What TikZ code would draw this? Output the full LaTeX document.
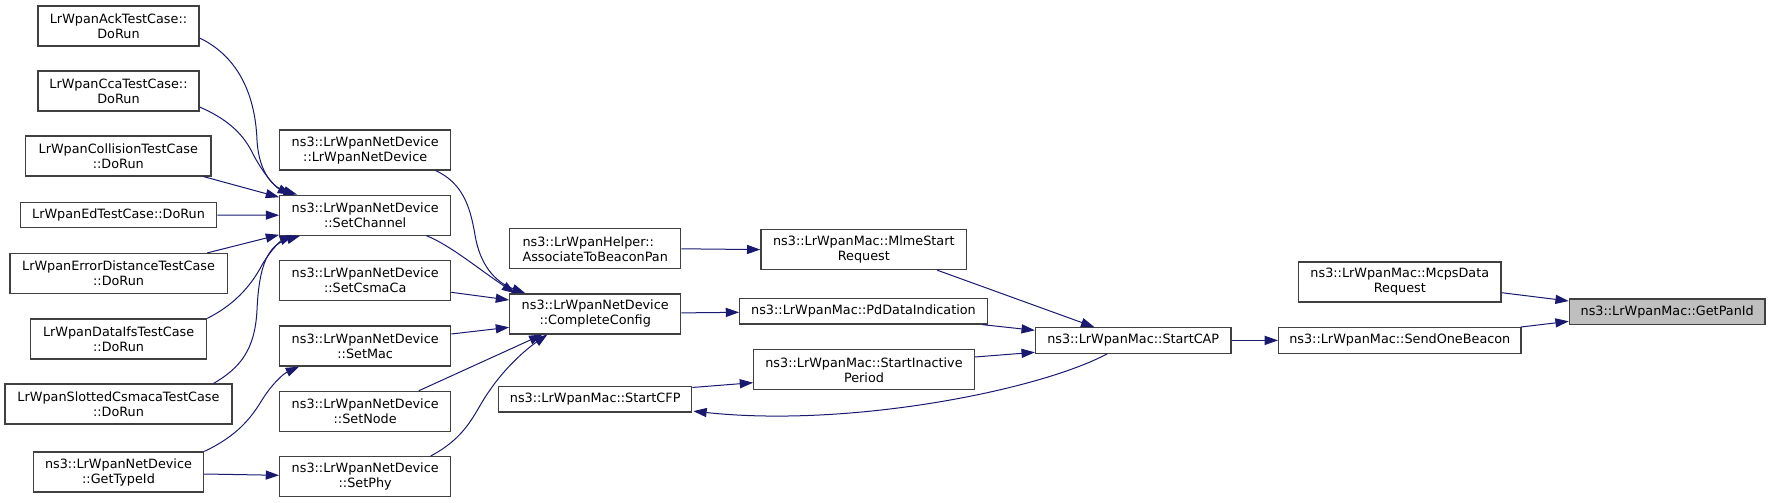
\documentclass[tikz,border=0pt]{standalone}
\usepackage{fontspec}
\setmainfont{DejaVu Sans}
\usetikzlibrary{arrows.meta,calc}
\definecolor{nodeborder}{HTML}{404040}
\definecolor{edgeblue}{HTML}{191970}
\definecolor{hlfill}{HTML}{BFBFBF}
\begin{document}
\begin{tikzpicture}[x=0.75pt,y=-0.75pt,
  box/.style={draw=nodeborder,line width=0.9pt,fill=white,inner sep=0pt,align=center,
    font=\fontsize{9.6pt}{11.25pt}\selectfont},
  two/.style={minimum height=30pt},
  one/.style={minimum height=19.1pt},
  wd/.style={minimum width={#1*0.75pt}},
  call/.style={draw=edgeblue,line width=0.75pt,-{Triangle[length=10pt,width=6.8pt]},fill=none},
]
\useasboundingbox (0,0) rectangle (1771,503);

% left column
\node[box,two,wd=161] (ack) at (118.5,26) {LrWpanAckTestCase::\\DoRun};
\node[box,two,wd=161] (cca) at (118.5,91) {LrWpanCcaTestCase::\\DoRun};
\node[box,two,wd=185.3] (coll) at (118.3,156) {LrWpanCollisionTestCase\\::DoRun};
\node[box,one,wd=196.3] (ed) at (118.5,215) {LrWpanEdTestCase::DoRun};
\node[box,two,wd=217.3] (errdist) at (118.6,273.5) {LrWpanErrorDistanceTestCase\\::DoRun};
\node[box,two,wd=176] (dataifs) at (118.6,339) {LrWpanDataIfsTestCase\\::DoRun};
\node[box,two,wd=227] (slotted) at (118.5,404) {LrWpanSlottedCsmacaTestCase\\::DoRun};
\node[box,two,wd=170.3] (gettypeid) at (118.5,472) {ns3::LrWpanNetDevice\\::GetTypeId};

% second column
\node[box,two,wd=171] (lrnd) at (365.2,150) {ns3::LrWpanNetDevice\\::LrWpanNetDevice};
\node[box,two,wd=171] (setchannel) at (365.2,215.2) {ns3::LrWpanNetDevice\\::SetChannel};
\node[box,two,wd=171] (setcsmaca) at (365.2,280.7) {ns3::LrWpanNetDevice\\::SetCsmaCa};
\node[box,two,wd=171] (setmac) at (365.2,346) {ns3::LrWpanNetDevice\\::SetMac};
\node[box,two,wd=171] (setnode) at (365.2,411.3) {ns3::LrWpanNetDevice\\::SetNode};
\node[box,two,wd=171] (setphy) at (365.2,476.7) {ns3::LrWpanNetDevice\\::SetPhy};

% third column
\node[box,two,wd=171,align=left] (associate) at (595.2,248.8) {ns3::LrWpanHelper::\\AssociateToBeaconPan};
\node[box,two,wd=171] (cc) at (595.2,313.9) {ns3::LrWpanNetDevice\\::CompleteConfig};
\node[box,one,wd=193] (startcfp) at (595.2,399.3) {ns3::LrWpanMac::StartCFP};

% fourth column
\node[box,two,wd=205.7] (mlme) at (863.8,249.6) {ns3::LrWpanMac::MlmeStart\\Request};
\node[box,one,wd=247.6] (pddata) at (863.5,311.3) {ns3::LrWpanMac::PdDataIndication};
\node[box,two,wd=220.6] (startinactive) at (864,369.8) {ns3::LrWpanMac::StartInactive\\Period};

% fifth column
\node[box,one,wd=195.5] (startcap) at (1133.2,340.4) {ns3::LrWpanMac::StartCAP};

% sixth column
\node[box,two,wd=202.5] (mcps) at (1399.8,282) {ns3::LrWpanMac::McpsData\\Request};
\node[box,one,wd=242.3] (sendone) at (1399.8,340.4) {ns3::LrWpanMac::SendOneBeacon};

% target
\node[box,one,wd=195.7,fill=hlfill] (getpanid) at (1667.2,311.8) {ns3::LrWpanMac::GetPanId};

% edges into SetChannel
\draw[call] ($(ack.east)+(0,12)$) .. controls (235,55) and (255,90) .. (257,140)
  .. controls (259,175) and (275,188) .. ($(setchannel.north west)+(18,0)$);
\draw[call] ($(cca.east)+(0,16)$) .. controls (225,118) and (242,132) .. (252,152)
  .. controls (262,172) and (275,187) .. ($(setchannel.north west)+(12,0)$);
\draw[call] ($(coll.south east)+(-8,0)$) -- ($(setchannel.west)+(0,-18)$);
\draw[call] (ed.east) -- (setchannel.west);
\draw[call] ($(errdist.north east)+(-20.6,0)$) -- ($(setchannel.south west)+(0,-1)$);
\draw[call] (dataifs.north east) .. controls (232,306) and (250,288) .. (262,265)
  .. controls (272,248) and (282,240) .. ($(setchannel.south west)+(14,0)$);
\draw[call] ($(slotted.north east)+(-19,0)$) .. controls (240,368) and (255,350) .. (257,310)
  .. controls (259,265) and (268,245) .. ($(setchannel.south west)+(21,0)$);

% GetTypeId edges
\draw[call] (gettypeid.north east) .. controls (235,437) and (250,420) .. (262,400)
  .. controls (272,384) and (283,374) .. ($(setmac.south west)+(20,0)$);
\draw[call] ($(gettypeid.east)+(0,2)$) -- ($(setphy.west)+(0,-1.4)$);

% edges into CompleteConfig
\draw[call] ($(lrnd.south east)+(-15.5,0)$) .. controls (462,183) and (470,205) .. (475,235)
  .. controls (480,265) and (495,282) .. ($(cc.north west)+(16.3,0)$);
\draw[call] ($(setchannel.south east)+(-24.7,0)$) .. controls (450,245) and (480,270) .. ($(cc.north west)+(6,0)$);
\draw[call] ($(setcsmaca.east)+(0,11.6)$) -- ($(cc.west)+(0,-13.9)$);
\draw[call] ($(setmac.east)+(0,-12)$) -- ($(cc.west)+(0,13.4)$);
\draw[call] ($(setnode.north east)+(-32.4,0)$) -- ($(cc.south west)+(33.3,0)$);
\draw[call] ($(setphy.north east)+(-20.7,0)$) .. controls (470,435) and (475,410) .. (490,390)
  .. controls (505,368) and (525,350) .. ($(cc.south west)+(38.3,0)$);

% third to fourth column
\draw[call] (associate.east) -- (mlme.west);
\draw[call] ($(cc.east)+(0,-1)$) -- ($(pddata.west)+(0,1)$);
\draw[call] ($(startcfp.north east)+(0,1.5)$) -- ($(startinactive.west)+(0,12.9)$);

% into StartCAP
\draw[call] ($(mlme.south east)+(-30,0)$) -- ($(startcap.north west)+(59.5,0)$);
\draw[call] ($(pddata.south east)+(-5.6,0)$) -- ($(startcap.west)+(0,-10.1)$);
\draw[call] ($(startinactive.east)+(0,-12.8)$) -- ($(startcap.west)+(0,11.9)$);

% StartCAP to StartCFP
\draw[call] ($(startcap.south west)+(72.5,0)$) .. controls (1040,390) and (850,428) .. ($(startcfp.south east)+(1,-1.5)$);

% right part
\draw[call] (startcap.east) -- (sendone.west);
\draw[call] ($(mcps.east)+(0,10.7)$) -- ($(getpanid.west)+(0,-10.8)$);
\draw[call] ($(sendone.north east)+(-1,0)$) -- ($(getpanid.west)+(0,9.5)$);
\end{tikzpicture}
\end{document}
